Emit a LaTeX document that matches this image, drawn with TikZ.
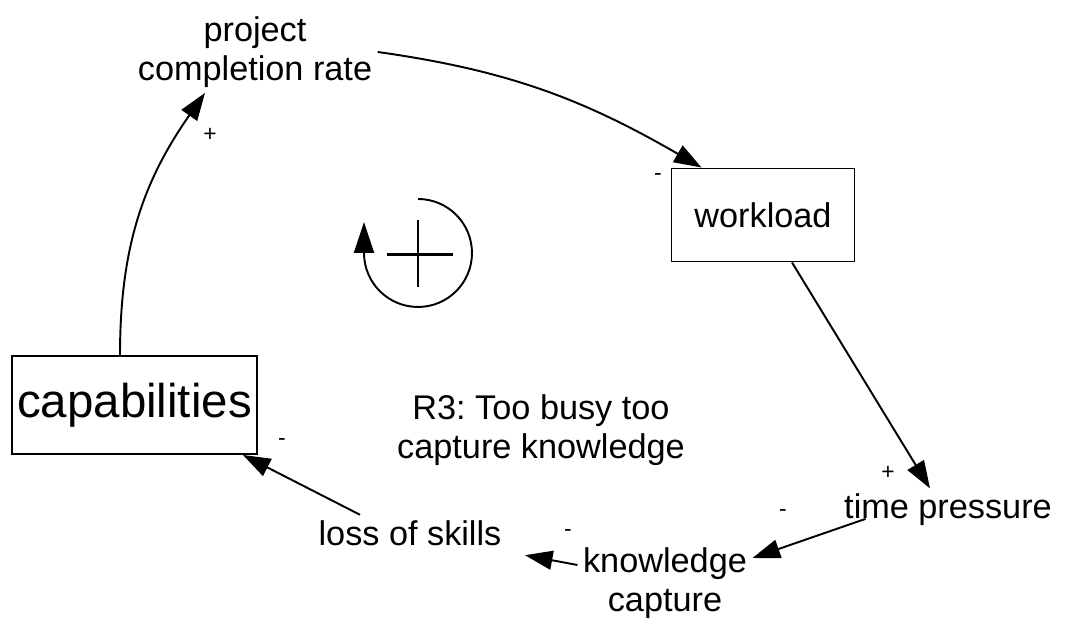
\documentclass[tikz,border=0pt]{standalone}
\usepackage{fontspec}
\setmainfont{Liberation Sans}
\usetikzlibrary{arrows.meta}
\frenchspacing

\begin{document}
\begin{tikzpicture}[x=0.02cm, y=0.02cm,
varnode/.style={align=center, inner sep=3pt, font=\fontsize{19.5}{22}\selectfont},
stocknode/.style={rectangle, draw=black, line width=1.1pt, inner sep=2pt, align=center},
signnode/.style={inner sep=0pt, font=\fontsize{13}{13}\selectfont},
link/.style={line width=1.1pt, -{Triangle[length=0.55cm, width=0.38cm]}},
]
\useasboundingbox (0,0) rectangle (1076,628);

%Nodes
\node[varnode]          (completion)  at (255,576) {project\\completion rate};
\node[stocknode, minimum width=3.66cm, minimum height=1.86cm, font=\fontsize{19.5}{22}\selectfont]
                        (workload)    at (763,413) {workload};
\node[varnode]          (pressure)    at (948,118) {time pressure};
\node[varnode]          (capture)     at (665,45)  {knowledge\\capture};
\node[varnode]          (loss)        at (410,95)  {loss of skills};
\node[stocknode, minimum width=4.9cm, minimum height=1.96cm, font=\fontsize{27}{30}\selectfont]
                        (capabilities) at (134.5,223) {capabilities};
\node[varnode]          (loopname)    at (541,198) {R3: Too busy too\\capture knowledge};
\coordinate             (loop)        at (418,375);

%Lines
\draw[link] ([xshift=-0.29cm]capabilities.north) to[out=90, in=235] ([xshift=-1cm]completion.south);
\draw[link] (completion.east) to[out=-8, in=150] ([xshift=0.62cm]workload.north west);
\draw[link] ([xshift=0.58cm]workload.south) -- ([xshift=-0.36cm]pressure.north);
\draw[link] ([xshift=0.54cm]pressure.base west) -- ([yshift=0.5cm]capture.east);
\draw[link] ([yshift=0.36cm]capture.west) -- ([xshift=0.36cm, yshift=-0.08cm]loss.south east);
\draw[link] ([xshift=-1cm]loss.north) -- ([xshift=-0.3cm]capabilities.south east);

%Loop
\draw[line width=1.1pt, -{Triangle[length=0.62cm, width=0.4cm]}]
  ([shift={(0,54)}]loop) arc[start angle=90, end angle=-180, radius=1.08cm] -- ++(0,31);
\draw[line width=1.7pt] ([shift={(-31,-2)}]loop) -- ([shift={(35,-2)}]loop);
\draw[line width=1.7pt] ([shift={(0,33)}]loop) -- ([shift={(0,-34)}]loop);

%Signs
\node[signnode] (s1) at (210,493) {+};
\node[signnode] (s2) at (658,451) {-};
\node[signnode] (s3) at (888,155) {+};
\node[signnode] (s4) at (783,115) {-};
\node[signnode] (s5) at (568,95)  {-};
\node[signnode] (s6) at (282,186) {-};

\end{tikzpicture}
\end{document}
